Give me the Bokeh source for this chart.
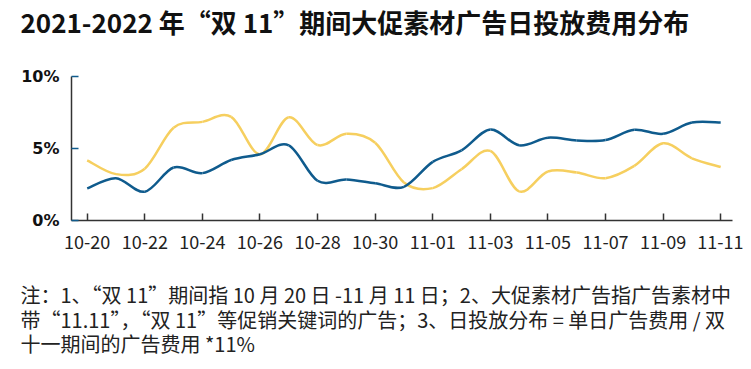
from bokeh.plotting import figure
from bokeh.models import Title, FixedTicker, Range1d, ColumnDataSource
from bokeh.embed import file_html
from bokeh.resources import INLINE

dates = ["10-20", "10-21", "10-22", "10-23", "10-24", "10-25", "10-26", "10-27",
         "10-28", "10-29", "10-30", "10-31", "11-01", "11-02", "11-03", "11-04",
         "11-05", "11-06", "11-07", "11-08", "11-09", "11-10", "11-11"]
series_blue = [2.23, 2.94, 2.0, 3.68, 3.29, 4.2, 4.6, 5.22, 2.76, 2.85, 2.58, 2.34,
               4.07, 4.87, 6.32, 5.22, 5.75, 5.56, 5.59, 6.3, 6.02, 6.8, 6.8]
series_yellow = [4.18, 3.22, 3.6, 6.44, 6.85, 7.2, 4.6, 7.17, 5.24, 6.02, 5.4, 2.64,
                 2.25, 3.56, 4.83, 2.02, 3.40, 3.33, 2.94, 3.79, 5.36, 4.32, 3.72]
labeled_dates = ["10-20", "10-22", "10-24", "10-26", "10-28", "10-30", "11-01",
                 "11-03", "11-05", "11-07", "11-09", "11-11"]
y_ticks = [0, 5, 10]
y_tick_labels = ["0%", "5%", "10%"]

title_text = "2021-2022 年“双 11”期间大促素材广告日投放费用分布"
note_lines = [
    "注：1、“双 11”期间指 10 月 20 日 -11 月 11 日；2、大促素材广告指广告素材中",
    "带“11.11”，“双 11”等促销关键词的广告；3、日投放分布 = 单日广告费用 / 双",
    "十一期间的广告费用 *11%",
]

BLUE = "#0f5b8d"
YELLOW = "#f6cf5f"
FL, FT, FW, FH = 71, 75, 661, 145
W, H = 743, 369

p = figure(width=W, height=H, output_backend="svg", toolbar_location=None,
           x_range=Range1d(-0.545, 22.41), y_range=Range1d(0, 10),
           min_border_left=FL, min_border_right=W - FL - FW, min_border_top=FT,
           min_border_bottom=H - FT - FH)
p.outline_line_color = None
p.xgrid.visible = False
p.ygrid.visible = False
p.background_fill_color = "white"
p.border_fill_color = "white"


def bezier_source(vals):
    xs = list(range(len(vals)))
    n = len(vals)
    d = dict(x0=[], y0=[], x1=[], y1=[], cx0=[], cy0=[], cx1=[], cy1=[])
    for i in range(n - 1):
        i0 = max(i - 1, 0)
        i3 = min(i + 2, n - 1)
        d["x0"].append(xs[i]); d["y0"].append(vals[i])
        d["x1"].append(xs[i + 1]); d["y1"].append(vals[i + 1])
        d["cx0"].append(xs[i] + (xs[i + 1] - xs[i0]) / 6)
        d["cy0"].append(vals[i] + (vals[i + 1] - vals[i0]) / 6)
        d["cx1"].append(xs[i + 1] - (xs[i3] - xs[i]) / 6)
        d["cy1"].append(vals[i + 1] - (vals[i3] - vals[i]) / 6)
    return ColumnDataSource(d)


p.bezier(x0="x0", y0="y0", x1="x1", y1="y1", cx0="cx0", cy0="cy0", cx1="cx1",
         cy1="cy1", source=bezier_source(series_yellow), line_color=YELLOW,
         line_width=2.5)
p.bezier(x0="x0", y0="y0", x1="x1", y1="y1", cx0="cx0", cy0="cy0", cx1="cx1",
         cy1="cy1", source=bezier_source(series_blue), line_color=BLUE,
         line_width=2.5)

# x axis
xt = [dates.index(d) for d in labeled_dates]
p.xaxis.ticker = FixedTicker(ticks=xt)
p.xaxis.major_label_overrides = {i: dates[i] for i in xt}
p.xaxis.axis_line_color = "#333333"
p.xaxis.axis_line_width = 1.5
p.xaxis.major_tick_in = 7
p.xaxis.major_tick_out = 0
p.xaxis.major_tick_line_color = "#333333"
p.xaxis.major_tick_line_width = 1.5
p.xaxis.minor_tick_line_color = None
p.xaxis.major_label_standoff = 14
p.xaxis.major_label_text_font = "Noto Sans CJK SC"
p.xaxis.major_label_text_font_size = "18px"
p.xaxis.major_label_text_color = "#222222"

# y axis
p.yaxis.ticker = FixedTicker(ticks=y_ticks)
p.yaxis.major_label_overrides = {t: l for t, l in zip(y_ticks, y_tick_labels)}
p.yaxis.axis_line_color = "#333333"
p.yaxis.axis_line_width = 1.5
p.yaxis.major_tick_in = 7
p.yaxis.major_tick_out = 0
p.yaxis.major_tick_line_color = BLUE
p.yaxis.major_tick_line_width = 1.5
p.yaxis.minor_tick_line_color = None
p.yaxis.major_label_standoff = 12
p.yaxis.major_label_text_font = "DejaVu Sans"
p.yaxis.major_label_text_font_style = "bold"
p.yaxis.major_label_text_font_size = "16px"
p.yaxis.major_label_text_color = "#111111"

# title
p.title.text = title_text
p.title.align = "left"
p.title.offset = 20 - FL
p.title.standoff = 0
p.title.text_font = "Noto Sans CJK SC"
p.title.text_font_style = "bold"
p.title.text_font_size = "26px"
p.title.text_color = "#111111"

# blank spacer between the frame and the title (lifts the title)
p.add_layout(Title(text=" ", standoff=0, text_font="Noto Sans CJK SC",
                   text_font_size="24px"), "above")

# notes below (one multi-line title)
notes = Title(text="\n".join(note_lines), align="left", offset=20 - FL,
              standoff=0, text_font="Noto Sans CJK SC",
              text_font_style="normal", text_font_size="20px",
              text_line_height=0.85, text_color="#222222")
try:
    notes.padding = dict(top=27)
except Exception:
    pass
p.add_layout(notes, "below")

open("out.html", "w").write(file_html(p, INLINE))
